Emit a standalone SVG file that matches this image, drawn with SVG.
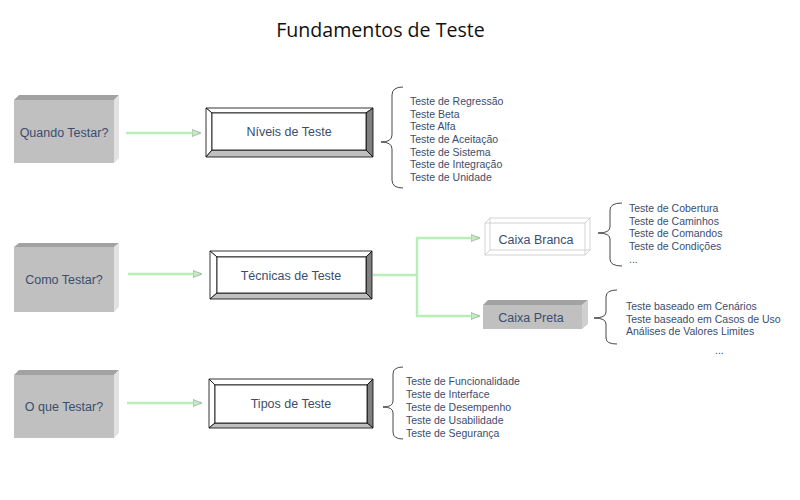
<svg xmlns="http://www.w3.org/2000/svg" width="800" height="500" viewBox="0 0 800 500">
<defs>
<marker id="ah" markerWidth="10" markerHeight="8" refX="8" refY="4" orient="auto" markerUnits="userSpaceOnUse">
<path d="M0,0.5 L9,4 L0,7.5 Z" fill="#c4ecc4" stroke="#8a9a8a" stroke-width="0.6"/>
</marker>
</defs>
<style>
.lbl{font-family:"Liberation Sans",Arial,sans-serif;font-size:12.5px;fill:#3b4d6e;text-anchor:middle;dominant-baseline:central}
.itm{font-family:"Liberation Sans",Arial,sans-serif;font-size:10.5px;fill:#3b4d6e;dominant-baseline:central}
.front{fill:#c0c0c0}
.top{fill:#a2a2a2}
.side{fill:#e2e2e2}
.bv{stroke:#000;stroke-width:0.8}
.con{fill:none;stroke:#b8eeb8;stroke-width:2.5}
.brace{fill:none;stroke:#333;stroke-width:0.9}
</style>
<rect width="800" height="500" fill="#fff"/>
<text x="380.5" y="37" font-family="'Open Sans',sans-serif" font-size="19.6" fill="#111" text-anchor="middle">Fundamentos de Teste</text>

<g id="connectors">
<line class="con" x1="126" y1="133" x2="200" y2="133" marker-end="url(#ah)"/>
<line class="con" x1="128" y1="274" x2="201" y2="274" marker-end="url(#ah)"/>
<line class="con" x1="127" y1="403" x2="201" y2="403" marker-end="url(#ah)"/>
<polyline class="con" points="373,275 417,275"/>
<line class="con" x1="417" y1="238" x2="417" y2="316"/>
<line class="con" x1="416" y1="238" x2="479" y2="238" marker-end="url(#ah)"/>
<line class="con" x1="416" y1="316" x2="479" y2="316" marker-end="url(#ah)"/>
</g>

<g id="quando">
<rect class="front" x="14" y="100" width="100" height="63"/>
<polygon class="top" points="14,100 19,95 119,95 114,100"/>
<polygon class="side" points="114,100 119,95 119,158 114,163"/>
<text class="lbl" x="64" y="133">Quando Testar?</text>
</g>
<g id="como">
<rect class="front" x="14" y="247" width="100" height="65"/>
<polygon class="top" points="14,247 19,243 119,243 114,247"/>
<polygon class="side" points="114,247 119,243 119,307 114,312"/>
<text class="lbl" x="64" y="280">Como Testar?</text>
</g>
<g id="oque">
<rect class="front" x="14" y="375" width="100" height="63"/>
<polygon class="top" points="14,375 19,370 119,370 114,375"/>
<polygon class="side" points="114,375 119,370 119,433 114,438"/>
<text class="lbl" x="64" y="407">O que Testar?</text>
</g>

<g id="niveis">
<polygon class="bv" fill="#fff" points="206,108 373,108 366,113 212,113"/>
<polygon class="bv" fill="#fff" points="206,108 212,113 212,150 206,157"/>
<polygon class="bv" fill="#808080" points="373,108 373,157 366,150 366,113"/>
<polygon class="bv" fill="#c0c0c0" points="206,157 373,157 366,150 212,150"/>
<rect class="bv" fill="#fff" x="212" y="113" width="154" height="37"/>
<text class="lbl" x="289" y="132">Níveis de Teste</text>
</g>
<g id="tecnicas">
<polygon class="bv" fill="#fff" points="210,251 372,251 366,257 217,257"/>
<polygon class="bv" fill="#fff" points="210,251 217,257 217,293 210,299"/>
<polygon class="bv" fill="#808080" points="372,251 372,299 366,293 366,257"/>
<polygon class="bv" fill="#c0c0c0" points="210,299 372,299 366,293 217,293"/>
<rect class="bv" fill="#fff" x="217" y="257" width="149" height="36"/>
<text class="lbl" x="291" y="276">Técnicas de Teste</text>
</g>
<g id="tipos">
<polygon class="bv" fill="#fff" points="209,379 373,379 367,385 215,385"/>
<polygon class="bv" fill="#fff" points="209,379 215,385 215,423 209,428"/>
<polygon class="bv" fill="#808080" points="373,379 373,428 367,423 367,385"/>
<polygon class="bv" fill="#c0c0c0" points="209,428 373,428 367,423 215,423"/>
<rect class="bv" fill="#fff" x="215" y="385" width="152" height="38"/>
<text class="lbl" x="291" y="404">Tipos de Teste</text>
</g>

<g id="branca" fill="none" stroke="#c8c8c8" stroke-width="0.8">
<rect x="490" y="218" width="100" height="32" fill="#fff"/>
<rect x="485" y="223" width="100" height="32"/>
<line x1="485" y1="223" x2="490" y2="218"/>
<line x1="585" y1="223" x2="590" y2="218"/>
<line x1="585" y1="255" x2="590" y2="250"/>
<line x1="485" y1="255" x2="490" y2="250"/>
<text class="lbl" x="536" y="240" stroke="none">Caixa Branca</text>
</g>
<g id="preta">
<rect class="front" x="483" y="305" width="99" height="24"/>
<polygon class="top" points="483,305 488,300 588,300 582,305"/>
<polygon fill="#cfcfcf" points="582,305 588,300 588,324 582,329"/>
<text class="lbl" x="531" y="318">Caixa Preta</text>
</g>

<g id="niveis-lista">
<path class="brace" d="M403,87 Q392,87 392,95 L392,135 Q392,142 381,142 Q392,142 392,149 L392,180 Q392,188 403,188"/>
<text class="itm" x="410" y="101">Teste de Regressão</text>
<text class="itm" x="410" y="113.7">Teste Beta</text>
<text class="itm" x="410" y="126.3">Teste Alfa</text>
<text class="itm" x="410" y="139">Teste de Aceitação</text>
<text class="itm" x="410" y="151.7">Teste de Sistema</text>
<text class="itm" x="410" y="164.3">Teste de Integração</text>
<text class="itm" x="410" y="177">Teste de Unidade</text>
</g>
<g id="branca-lista">
<path class="brace" d="M622,203 Q610,203 610,210 L610,227 Q610,233 598,233 Q610,233 610,239 L610,259 Q610,266 622,266"/>
<text class="itm" x="629" y="208">Teste de Cobertura</text>
<text class="itm" x="629" y="220.5">Teste de Caminhos</text>
<text class="itm" x="629" y="233">Teste de Comandos</text>
<text class="itm" x="629" y="245.5">Teste de Condições</text>
<text class="itm" x="629" y="259">...</text>
</g>
<g id="preta-lista">
<path class="brace" d="M617,290 Q606,290 606,297 L606,312 Q606,318 594,318 Q606,318 606,324 L606,338 Q606,344 617,344"/>
<text class="itm" x="626" y="306">Teste baseado em Cenários</text>
<text class="itm" x="626" y="318.5">Teste baseado em Casos de Uso</text>
<text class="itm" x="626" y="331">Análises de Valores Limites</text>
<text class="itm" x="715" y="350" font-size="13">...</text>
</g>
<g id="tipos-lista">
<path class="brace" d="M403,367 Q393,367 393,374 L393,401 Q393,407 383,407 Q393,407 393,413 L393,432 Q393,439 403,439"/>
<text class="itm" x="406" y="380.5">Teste de Funcionalidade</text>
<text class="itm" x="406" y="393.5">Teste de Interface</text>
<text class="itm" x="406" y="406.5">Teste de Desempenho</text>
<text class="itm" x="406" y="419.5">Teste de Usabilidade</text>
<text class="itm" x="406" y="432.5">Teste de Segurança</text>
</g>
</svg>
